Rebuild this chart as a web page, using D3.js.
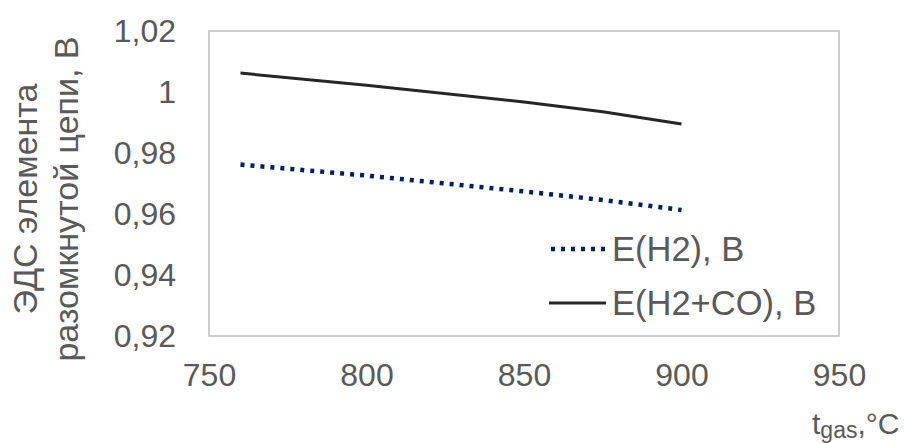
<!DOCTYPE html>
<html>
<head>
<meta charset="utf-8">
<script src="https://cdn.jsdelivr.net/npm/d3@7"></script>
<style>
  body { margin: 0; background: #fff; }
  svg { font-family: "Liberation Sans", Arial, sans-serif; }
</style>
</head>
<body>
<div class="chart"></div>
<script>
// Данные
const temps = [760, 800, 850, 875, 900];
const eH2 = [0.9762, 0.9726, 0.9674, 0.9646, 0.9613];
const eH2CO = [1.0062, 1.0022, 0.9967, 0.9935, 0.9895];
const xTicks = [750, 800, 850, 900, 950];
const yTicks = [0.92, 0.94, 0.96, 0.98, 1.00, 1.02];
const seriesNames = ['E(H2), B', 'E(H2+CO), B'];

const series = [
    { name: seriesNames[0], color: '#002060', dash: '4,6', width: 4.5, values: eH2 },
    { name: seriesNames[1], color: '#262626', dash: null, width: 3, values: eH2CO }
];

const svg_width = 907;
const svg_height = 443;
const margin = { top: 31, right: 68, bottom: 107, left: 209 };

const svg = d3.select('.chart').append('svg')
    .attr('width', svg_width).attr('height', svg_height);

const xScale = d3.scaleLinear().domain([750, 950]).range([margin.left, svg_width - margin.right]);
const yScale = d3.scaleLinear().domain([0.92, 1.02]).range([svg_height - margin.bottom, margin.top]);

// запятая как десятичный разделитель
const ru = d3.formatLocale({ decimal: ',', thousands: ' ', grouping: [3], currency: ['', ''] });
const fmt = ru.format('.2~f');

// рамка области построения
svg.append('rect')
    .attr('x', xScale(750)).attr('y', yScale(1.02))
    .attr('width', xScale(950) - xScale(750))
    .attr('height', yScale(0.92) - yScale(1.02))
    .attr('fill', 'none').attr('stroke', '#bfbfbf').attr('stroke-width', 1.5);

// оси
const xAxis = d3.axisBottom(xScale).tickValues(xTicks).tickSize(0).tickPadding(27);
svg.append('g').attr('class', 'x axis')
    .attr('transform', `translate(0,${yScale(0.92)})`)
    .call(xAxis)
    .call(g => g.select('.domain').remove());

const yAxis = d3.axisLeft(yScale).tickValues(yTicks).tickFormat(fmt).tickSize(0).tickPadding(33);
svg.append('g').attr('class', 'y axis')
    .attr('transform', `translate(${xScale(750)},0)`)
    .call(yAxis)
    .call(g => g.select('.domain').remove());

svg.selectAll('.axis text')
    .style('font-family', '"Liberation Sans", Arial, sans-serif')
    .style('font-size', '32px')
    .style('fill', '#595959');

// линии
const lineGen = d3.line()
    .x((d, i) => xScale(temps[i]))
    .y(d => yScale(d));

svg.append('g').attr('class', 'lines')
    .selectAll('path').data(series).enter()
    .append('path')
    .attr('d', d => lineGen(d.values))
    .attr('fill', 'none')
    .attr('stroke', d => d.color)
    .attr('stroke-width', d => d.width)
    .attr('stroke-dasharray', d => d.dash);

// легенда
const legend = svg.append('g').attr('class', 'legend')
    .attr('transform', 'translate(549,249)');
const item = legend.selectAll('g').data(series).enter()
    .append('g').attr('transform', (d, i) => `translate(0,${i * 54})`);
item.append('line')
    .attr('x1', d => d.dash ? 2 : 0).attr('x2', 57).attr('y1', 0).attr('y2', 0)
    .attr('stroke', d => d.color)
    .attr('stroke-width', d => d.width)
    .attr('stroke-dasharray', d => d.dash);
item.append('text')
    .attr('x', 63).attr('y', 12)
    .style('font-size', '34.5px').style('fill', '#595959')
    .text(d => d.name);

// подпись оси Y
const yTitle = ['ЭДС элемента', 'разомкнутой цепи, В'];
svg.append('g').attr('class', 'y-title')
    .selectAll('text').data(yTitle).enter()
    .append('text')
    .attr('transform', (d, i) => `translate(${37 + i * 41},199) rotate(-90)`)
    .attr('text-anchor', 'middle')
    .style('font-size', '34px').style('fill', '#595959')
    .text(d => d);

// подпись оси X
const xTitle = svg.append('text')
    .attr('x', 812).attr('y', 434)
    .style('font-size', '30px').style('fill', '#595959');
xTitle.append('tspan').text('t');
xTitle.append('tspan').attr('dy', 4).style('font-size', '23px').text('gas');
xTitle.append('tspan').attr('dy', -4).text(',°C');
</script>
</body>
</html>
